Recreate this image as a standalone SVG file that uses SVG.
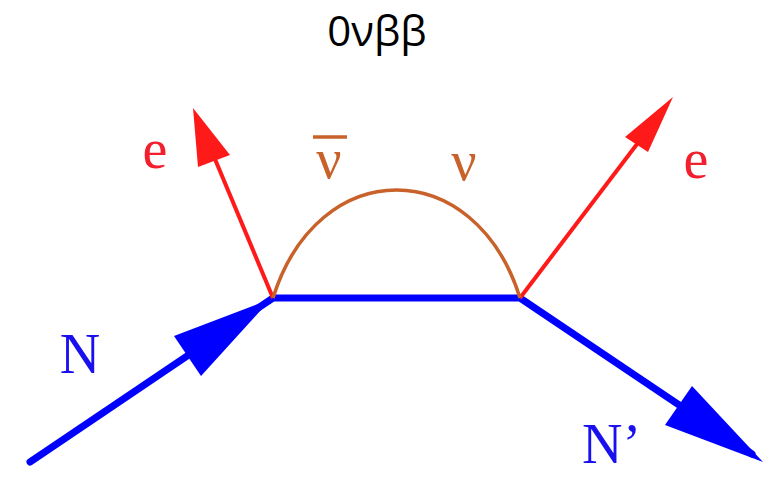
<svg xmlns="http://www.w3.org/2000/svg" width="766" height="499" viewBox="0 0 766 499">
<style>
.lbl{font-family:"Liberation Serif","Times New Roman",serif;font-size:56px;text-anchor:middle}
.red{fill:#f2202e}
.brn{fill:#c8622a}
.blu{fill:#1a10ee}
.title{font-family:"Open Sans","Noto Sans",sans-serif;font-size:42px;text-anchor:middle;fill:#000}
</style>
<rect width="766" height="499" fill="#ffffff"/>
<text class="title" x="377" y="46">0νββ</text>
<g id="connectors">
  <g id="nucleon-line">
    <polyline points="30,462 273,298 520,298 752,454" fill="none" stroke="#0000ff" stroke-width="7" stroke-linejoin="round" stroke-linecap="round"/>
    <polygon points="271,299 201,376 174,336" fill="#0000ff"/>
    <polygon points="763,462 692,386 665,425" fill="#0000ff"/>
  </g>
  <g id="electron-left">
    <line x1="273" y1="298" x2="207" y2="140" stroke="#ff1a1a" stroke-width="4"/>
    <polygon points="193,108 230,155 198,167" fill="#ff1a1a"/>
  </g>
  <g id="electron-right">
    <line x1="520" y1="298" x2="650" y2="127" stroke="#ff1a1a" stroke-width="4"/>
    <polygon points="673,97 648,152 625,137" fill="#ff1a1a"/>
  </g>
  <g id="neutrino">
    <path d="M273,298 C318,154 475,154 520,298" fill="none" stroke="#c8622a" stroke-width="3.5"/>
  </g>
</g>
<g id="labels">
  <text class="lbl red" x="155" y="168">e</text>
  <text class="lbl red" x="696" y="178">e</text>
  <g id="nubar">
    <text class="lbl brn" x="329" y="178">ν</text>
    <line x1="313" y1="137" x2="347" y2="137" stroke="#c8622a" stroke-width="3.5"/>
  </g>
  <text class="lbl brn" x="464" y="180">ν</text>
  <text class="lbl blu" x="80" y="373">N</text>
  <text class="lbl blu" x="582" y="463" style="text-anchor:start">N’</text>
</g>
</svg>
